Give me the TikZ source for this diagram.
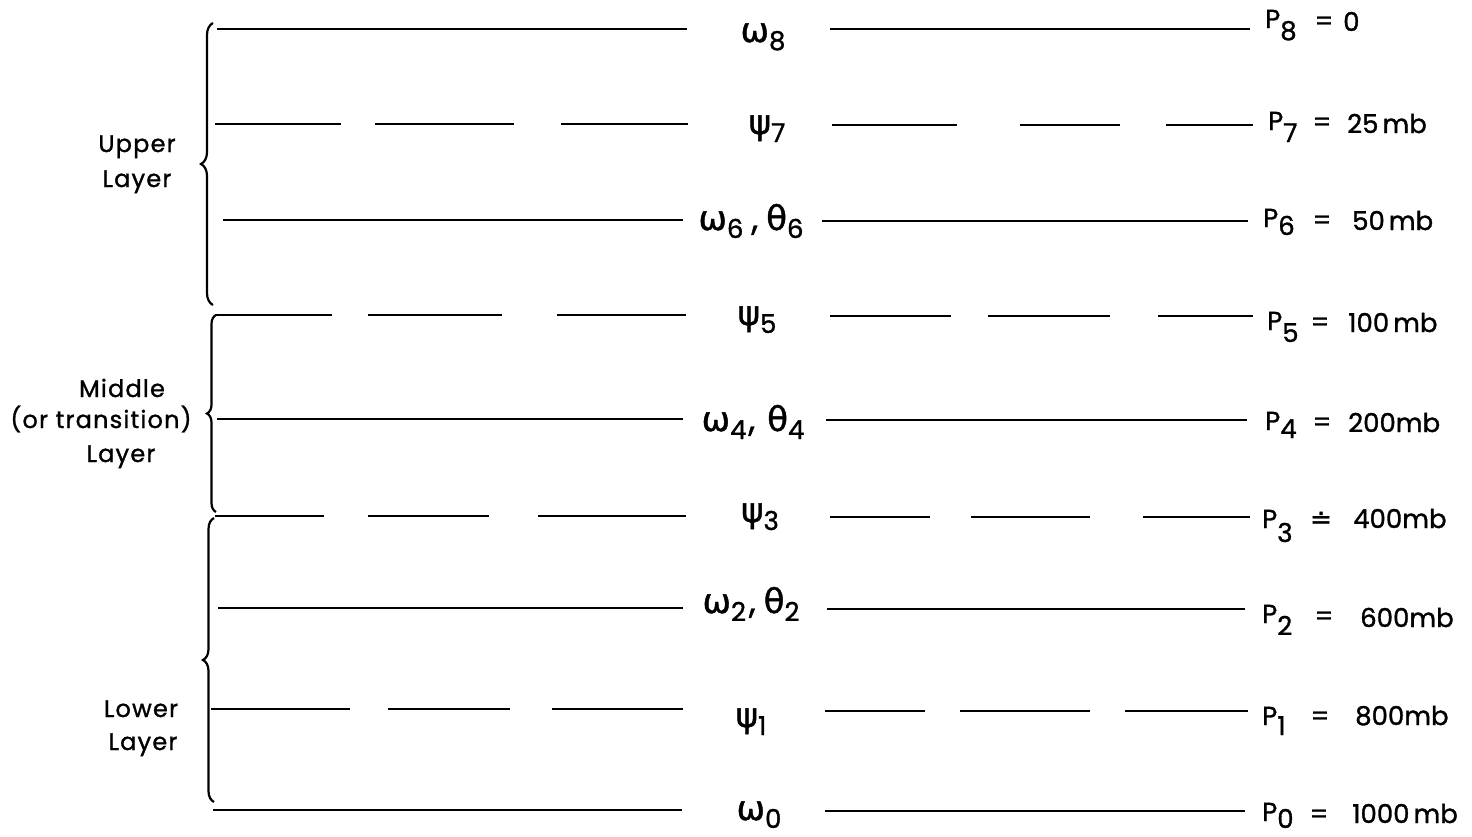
\documentclass[tikz,border=0pt]{standalone}
\usepackage{fontspec}
\setmainfont{Poppins}[FakeBold=1.2]
\newfontfamily\gk{DejaVu Sans}[FakeBold=1.2]
\usetikzlibrary{decorations.pathreplacing}
\tikzset{
  lev/.style={line width=2.2pt},
  brc/.style={line width=2.2pt, decorate, decoration={brace, amplitude=#1}},
  lay/.style={font=\fontsize{24}{28}\selectfont\addfontfeature{LetterSpace=5}, anchor=base, inner sep=0pt},
  mid/.style={font=\fontsize{34}{36}\selectfont, anchor=base, inner sep=0pt},
  plab/.style={font=\fontsize{26}{28}\selectfont, anchor=base west, inner sep=0pt},
  eqs/.style={font=\fontsize{26}{28}\selectfont, anchor=base, inner sep=0pt},
}
\newcommand{\gsub}[2]{{\gk #1}\raisebox{-8pt}{\fontsize{26}{28}\selectfont #2}}
\newcommand{\psub}[2][-10pt]{P\raisebox{#1}{#2}}
\begin{document}
\begin{tikzpicture}[x=1pt,y=-1pt]
\useasboundingbox (0,0) rectangle (1472,836);

% braces
\draw[brc=12pt] (213,305) -- (213,23);
\draw[brc=9pt] (216,512) -- (216,315);
\draw[brc=11pt] (214,802) -- (214,518);

% layer labels
\node[lay] (up1) at (137,152) {Upper};
\node[lay] (up2) at (137,187) {Layer};
\node[lay] (mi1) at (122,397) {Middle};
\node[lay] (mi2) at (101,428) {(or transition)};
\node[lay] (mi3) at (121,462) {Layer};
\node[lay] (lo1) at (141,717) {Lower};
\node[lay] (lo2) at (143,750) {Layer};

% level 8
\draw[lev] (217,29) -- (687,29);
\draw[lev] (830,29) -- (1250,29);
\node[mid] (c8) at (763,42) {\gsub{ω}{8}};
% level 7 (dashed)
\draw[lev] (215,124) -- (341,124) (375,124) -- (514,124) (561,124) -- (688,124);
\draw[lev] (832,125) -- (957,125) (1020,125) -- (1120,125) (1166,125) -- (1253,125);
\node[mid] (c7) at (767,134) {\gsub{ψ}{7}};
% level 6
\draw[lev] (223,220) -- (683,220);
\draw[lev] (822,221) -- (1248,221);
\node[mid] (c6) at (751,230) {\gsub{ω}{6}\hspace{8pt},\hspace{8pt}\gsub{θ}{6}};
% level 5 (dashed)
\draw[lev] (215,315) -- (332,315) (368,315) -- (502,315) (557,315) -- (686,315);
\draw[lev] (830,316) -- (951,316) (988,316) -- (1110,316) (1158,316) -- (1253,316);
\node[mid] (c5) at (757,325) {\gsub{ψ}{5}};
% level 4
\draw[lev] (217,419) -- (683,419);
\draw[lev] (826,420) -- (1247,420);
\node[mid] (c4) at (753,431) {\gsub{ω}{4}\hspace{2pt},\hspace{12pt}\gsub{θ}{4}};
% level 3 (dashed)
\draw[lev] (215,516) -- (324,516) (368,516) -- (489,516) (538,516) -- (686,516);
\draw[lev] (830,517) -- (930,517) (971,517) -- (1090,517) (1143,517) -- (1250,517);
\node[mid] (c3) at (760,522) {\gsub{ψ}{3}};
% level 2
\draw[lev] (218,608) -- (683,608);
\draw[lev] (827,609) -- (1245,609);
\node[mid] (c2) at (751,613) {\gsub{ω}{2}\hspace{3pt},\hspace{8pt}\gsub{θ}{2}};
% level 1 (dashed)
\draw[lev] (211,709) -- (350,709) (388,709) -- (510,709) (552,709) -- (683,709);
\draw[lev] (825,711) -- (925,711) (960,711) -- (1090,711) (1125,711) -- (1248,711);
\node[mid] (c1) at (751,727) {\gsub{ψ}{1}};
% level 0
\draw[lev] (213,810) -- (682,810);
\draw[lev] (825,811) -- (1245,811);
\node[mid] (c0) at (759,820) {\gsub{ω}{0}};

% pressure labels
\node[plab] (p8) at (1265,28) {\psub[-12pt]{8}};
\node[eqs] (e8) at (1324,30) {=};
\node[plab] (v8) at (1343,31) {0};

\node[plab] (p7) at (1268,130) {\psub[-12pt]{7}};
\node[eqs] (e7) at (1322,131) {=};
\node[plab] (v7) at (1347,133) {25\hspace{4pt}mb};

\node[plab] (p6) at (1263,227) {\psub[-8pt]{6}};
\node[eqs] (e6) at (1322,229) {=};
\node[plab] (v6) at (1352,230) {50\hspace{4pt}mb};

\node[plab] (p5) at (1267,330) {\psub[-12pt]{5}};
\node[eqs] (e5) at (1320,331) {=};
\node[plab] (v5) at (1348,332) {100\hspace{4pt}mb};

\node[plab] (p4) at (1265,430) {\psub[-8pt]{4}};
\node[eqs] (e4) at (1322,431) {=};
\node[plab] (v4) at (1348,432) {200mb};

\node[plab] (p3) at (1262,528) {\psub[-14pt]{3}};
\node[eqs] (e3) at (1321,528) {{\gk ≐}};
\node[plab] (v3) at (1353,528) {400mb};

\node[plab] (p2) at (1262,623) {\psub[-12pt]{2}};
\node[eqs] (e2) at (1324,625) {=};
\node[plab] (v2) at (1360,627) {600mb};

\node[plab] (p1) at (1262,725) {\psub[-10pt]{1}};
\node[eqs] (e1) at (1320,725) {=};
\node[plab] (v1) at (1355,725) {800mb};

\node[plab] (p0) at (1262,821) {\psub[-7pt]{0}};
\node[eqs] (e0) at (1319,823) {=};
\node[plab] (v0) at (1352,823) {1000\hspace{4pt}mb};
\end{tikzpicture}
\end{document}
